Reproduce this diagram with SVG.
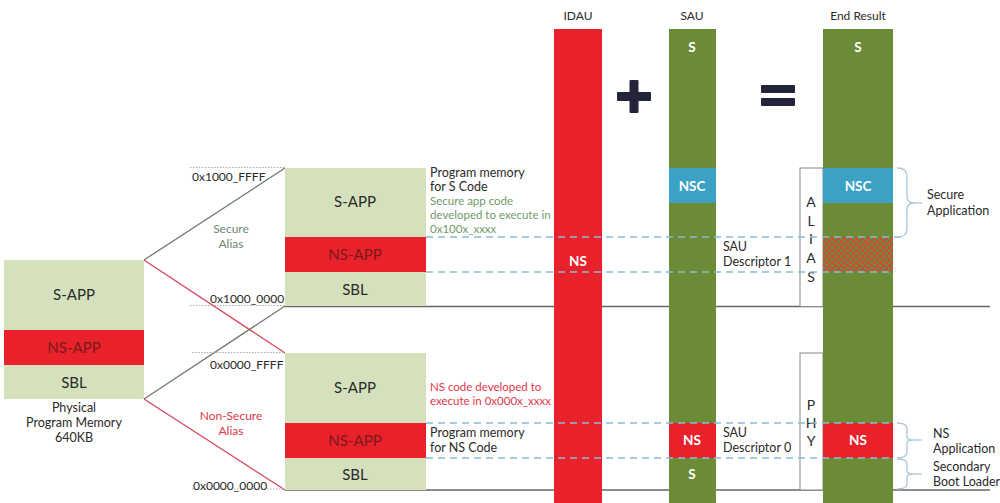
<svg xmlns="http://www.w3.org/2000/svg" width="1000" height="503" viewBox="0 0 1000 503">
<defs>
<style>
text{font-family:Lato,"Liberation Sans",sans-serif;}
.lg{fill:#d5e1bd;}
.rd{fill:#e8212b;}
.dg{fill:#6b8b36;}
.bl{fill:#3ba2c6;}
.blk{font-size:15px;fill:#2a2a2a;text-anchor:middle;}
.nsblk{font-size:15px;fill:#7a1a1a;text-anchor:middle;}
.lbl{font-size:12.5px;fill:#2a2a2a;}
.addr{font-size:12px;fill:#2a2a2a;}
.wt{font-size:13.5px;fill:#fff;font-weight:bold;text-anchor:middle;}
.hdr{font-size:12px;fill:#2a2a2a;text-anchor:middle;}
.grn{font-size:11.5px;fill:#6f9a6a;}
.red{font-size:11.5px;fill:#e0364a;}
.dash{stroke:#8cb9d6;stroke-width:1.3;stroke-dasharray:7,5;fill:none;}
.dot{stroke:#aaa;stroke-width:1;stroke-dasharray:1.5,1.5;fill:none;}
.brace{stroke:#a9c9d8;stroke-width:1.3;fill:none;}
.vlet{font-size:14px;fill:#2a2a2a;text-anchor:middle;}
</style>
<pattern id="hatch" width="6" height="6" patternUnits="userSpaceOnUse">
<rect width="6" height="6" fill="#6b8b36"/>
<rect width="3" height="3" fill="#d8453a"/>
<rect x="3" y="3" width="3" height="3" fill="#d8453a"/>
</pattern>
</defs>
<rect width="1000" height="503" fill="#fff"/>

<g id="connectors">
<line x1="285" y1="306.5" x2="990" y2="306.5" stroke="#666" stroke-width="1.5"/>
<line x1="285" y1="490" x2="990" y2="490" stroke="#666" stroke-width="1.5"/>
<line x1="144" y1="260" x2="285" y2="168" stroke="#6e7c6c" stroke-width="1.3"/>
<line x1="144" y1="260" x2="285" y2="353" stroke="#d9485a" stroke-width="1.3"/>
<line x1="144" y1="399" x2="285" y2="306" stroke="#6e7c6c" stroke-width="1.3"/>
<line x1="144" y1="399" x2="285" y2="490" stroke="#d9485a" stroke-width="1.3"/>
<line class="dot" x1="190" y1="167.5" x2="285" y2="167.5"/>
<line class="dot" x1="190" y1="305.5" x2="285" y2="305.5"/>
<line class="dot" x1="192" y1="352.5" x2="285" y2="352.5"/>
<line class="dot" x1="192" y1="489" x2="285" y2="489"/>
</g>

<g id="physical">
<rect class="lg" x="4" y="260" width="140" height="70"/>
<rect class="rd" x="4" y="330" width="140" height="35"/>
<rect class="lg" x="4" y="365" width="140" height="34"/>
<text class="blk" x="74" y="300">S-APP</text>
<text class="nsblk" x="74" y="353">NS-APP</text>
<text class="blk" x="74" y="388">SBL</text>
<text class="hdr" x="74" y="412" style="font-size:12.5px">Physical</text>
<text class="hdr" x="74" y="427" style="font-size:12.5px">Program Memory</text>
<text class="hdr" x="74" y="442" style="font-size:12.5px">640KB</text>
</g>

<g id="secure-alias">
<rect class="lg" x="285" y="168" width="141" height="69"/>
<rect class="rd" x="285" y="237" width="141" height="35"/>
<rect class="lg" x="285" y="272" width="141" height="34"/>
<text class="blk" x="355" y="207">S-APP</text>
<text class="nsblk" x="355" y="260">NS-APP</text>
<text class="blk" x="355" y="295">SBL</text>
<text class="addr" x="192" y="181">0x1000_FFFF</text>
<text class="addr" x="210" y="303">0x1000_0000</text>
<text x="231" y="233" style="font-size:12px;fill:#6f8a78;text-anchor:middle">Secure</text>
<text x="231" y="248" style="font-size:12px;fill:#6f8a78;text-anchor:middle">Alias</text>
<text class="lbl" x="430" y="177">Program memory</text>
<text class="lbl" x="430" y="191">for S Code</text>
<text class="grn" x="430" y="205">Secure app code</text>
<text class="grn" x="430" y="219">developed to execute in</text>
<text class="grn" x="430" y="233">0x100x_xxxx</text>
</g>

<g id="nonsecure-alias">
<rect class="lg" x="285" y="353" width="141" height="70"/>
<rect class="rd" x="285" y="423" width="141" height="35"/>
<rect class="lg" x="285" y="458" width="141" height="32"/>
<text class="blk" x="355" y="393">S-APP</text>
<text class="nsblk" x="355" y="446">NS-APP</text>
<text class="blk" x="355" y="480">SBL</text>
<text class="addr" x="210" y="369">0x0000_FFFF</text>
<text class="addr" x="193" y="490">0x0000_0000</text>
<text x="231" y="420" style="font-size:12px;fill:#e0364a;text-anchor:middle">Non-Secure</text>
<text x="231" y="435" style="font-size:12px;fill:#e0364a;text-anchor:middle">Alias</text>
<text class="red" x="430" y="391">NS code developed to</text>
<text class="red" x="430" y="405">execute in 0x000x_xxxx</text>
<text class="lbl" x="430" y="437">Program memory</text>
<text class="lbl" x="430" y="452">for NS Code</text>
</g>

<g id="idau">
<text class="hdr" x="578" y="20">IDAU</text>
<rect class="rd" x="554" y="29" width="48" height="474"/>
<text class="wt" x="578" y="266">NS</text>
</g>

<g id="plus">
<rect x="617" y="92" width="34" height="9" fill="#22243a" rx="1"/>
<rect x="629.5" y="80" width="9" height="33" fill="#22243a" rx="1"/>
</g>

<g id="sau">
<text class="hdr" x="692" y="20">SAU</text>
<rect class="dg" x="669" y="29" width="47" height="474"/>
<text class="wt" x="692" y="52">S</text>
<rect class="bl" x="669" y="168" width="47" height="35"/>
<text class="wt" x="692" y="191">NSC</text>
<rect class="rd" x="669" y="423" width="47" height="35"/>
<text class="wt" x="692" y="445">NS</text>
<text class="wt" x="692" y="479">S</text>
<text class="lbl" x="723" y="251">SAU</text>
<text class="lbl" x="723" y="266">Descriptor 1</text>
<text class="lbl" x="723" y="437">SAU</text>
<text class="lbl" x="723" y="452">Descriptor 0</text>
</g>

<g id="equals">
<rect x="761" y="85" width="34" height="8" fill="#22243a" rx="1"/>
<rect x="761" y="98" width="34" height="8" fill="#22243a" rx="1"/>
</g>

<g id="alias-box">
<rect x="800" y="168" width="23" height="138.5" fill="#fff" stroke="#888" stroke-width="1"/>
<text class="vlet" x="811" y="207">A</text>
<text class="vlet" x="811" y="226">L</text>
<text class="vlet" x="811" y="244">I</text>
<text class="vlet" x="811" y="263">A</text>
<text class="vlet" x="811" y="282">S</text>
</g>

<g id="phy-box">
<rect x="800" y="353" width="23" height="137" fill="#fff" stroke="#888" stroke-width="1"/>
<text class="vlet" x="811" y="410">P</text>
<text class="vlet" x="811" y="428">H</text>
<text class="vlet" x="811" y="446">Y</text>
</g>

<g id="end-result">
<text class="hdr" x="858" y="20">End Result</text>
<rect class="dg" x="823" y="29" width="70" height="474"/>
<text class="wt" x="858" y="52">S</text>
<rect class="bl" x="823" y="168" width="70" height="35"/>
<text class="wt" x="858" y="191">NSC</text>
<rect x="823" y="237" width="70" height="35" fill="url(#hatch)"/>
<rect class="rd" x="823" y="423" width="70" height="35"/>
<text class="wt" x="858" y="445">NS</text>
</g>

<g id="dashes">
<line class="dash" x1="426" y1="237" x2="905" y2="237"/>
<line class="dash" x1="426" y1="272" x2="893" y2="272"/>
<line class="dash" x1="426" y1="423" x2="893" y2="423"/>
<line class="dash" x1="426" y1="458" x2="893" y2="458"/>
</g>

<g id="secure-app-label">
<path class="brace" d="M897,168 Q907,168 907,176 L907,196 Q907,203 914,203 Q907,203 907,210 L907,229 Q907,237 897,237"/>
<line class="brace" x1="914" y1="203" x2="922" y2="203"/>
<text class="lbl" x="927" y="199">Secure</text>
<text class="lbl" x="927" y="215">Application</text>
</g>

<g id="ns-app-label">
<path class="brace" d="M897,423 Q907,423 907,429 L907,437 Q907,440 914,440 Q907,440 907,443 L907,452 Q907,458 897,458"/>
<line class="brace" x1="914" y1="440" x2="922" y2="440"/>
<text class="lbl" x="933" y="438">NS</text>
<text class="lbl" x="933" y="453">Application</text>
</g>

<g id="sbl-label">
<path class="brace" d="M897,459 Q907,459 907,464 L907,471 Q907,474 914,474 Q907,474 907,477 L907,484 Q907,489 897,489"/>
<line class="brace" x1="914" y1="474" x2="922" y2="474"/>
<text class="lbl" x="933" y="471">Secondary</text>
<text class="lbl" x="933" y="486">Boot Loader</text>
</g>
</svg>
